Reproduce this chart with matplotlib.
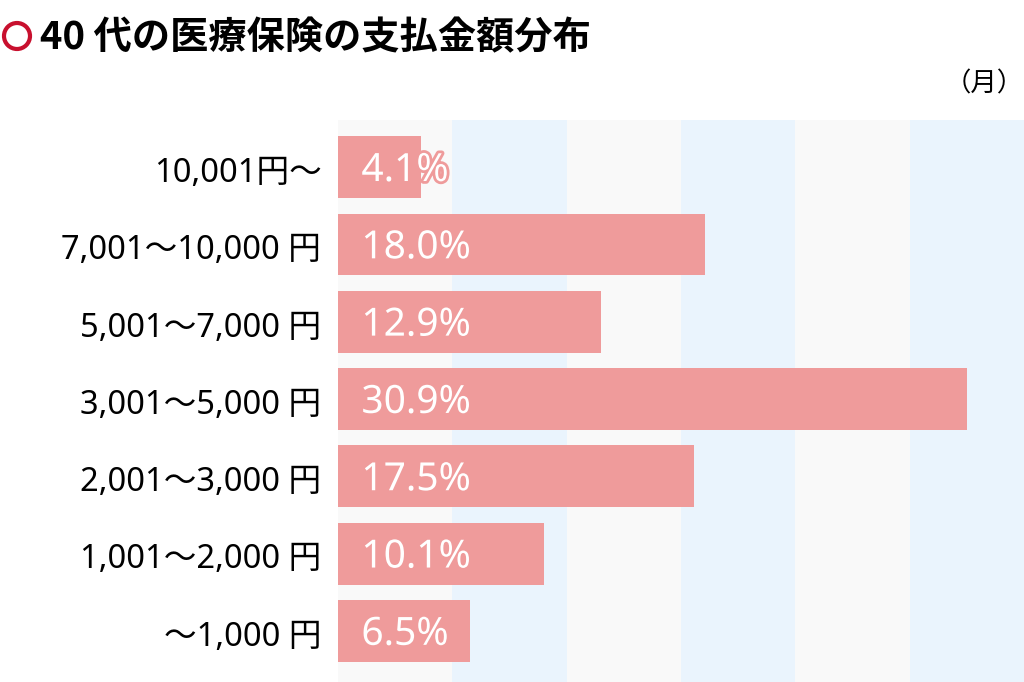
import matplotlib.pyplot as plt
import matplotlib.patheffects as pe
from matplotlib.patches import Rectangle, Ellipse

plt.rcParams['font.family'] = ['Noto Sans', 'Noto Sans CJK JP', 'DejaVu Sans']

# Data (top to bottom in the picture)
categories = ['10,001円〜', '7,001〜10,000 円', '5,001〜7,000 円', '3,001〜5,000 円',
              '2,001〜3,000 円', '1,001〜2,000 円', '〜1,000 円']
shares = [4.1, 18.0, 12.9, 30.9, 17.5, 10.1, 6.5]

bar_color = '#ef9b9b'
gray_band = '#f9f9f9'
blue_band = '#eaf4fd'

fig = plt.figure(figsize=(10.24, 6.82), dpi=100)
ax = fig.add_axes([338 / 1024, 0, 686 / 1024, 562 / 682])

# Alternating background columns
for i in range(6):
    c = gray_band if i % 2 == 0 else blue_band
    ax.add_patch(Rectangle((i / 6, 0), 1 / 6, 1, transform=ax.transAxes,
                           color=c, zorder=0, lw=0))

ypos = list(range(len(categories)))[::-1]
ax.barh(ypos, shares, height=0.8, color=bar_color, zorder=2)

for y, v in zip(ypos, shares):
    ax.text(1.15, y - 0.05, f'{v:.1f}%', color='white', fontsize=28, va='center',
            ha='left', zorder=3,
            path_effects=[pe.withStroke(linewidth=4, foreground=bar_color)])

ax.set_xlim(0, 33.69)
ax.set_ylim(-0.66, 6.61)
ax.set_yticks([y - 0.03 for y in ypos])
ax.set_yticklabels(categories, fontsize=23.5)
ax.tick_params(axis='y', length=0, pad=12)
ax.set_xticks([])
for s in ax.spines.values():
    s.set_visible(False)

# Title with red ring
fig.patches.append(Ellipse((17 / 1024, 1 - 36 / 682), 26 / 1024, 26 / 682,
                           transform=fig.transFigure, fill=False,
                           ec='#c8102e', lw=3.0))
fig.text(40 / 1024, 1 - 38 / 682, '40 代の医療保険の支払金額分布', fontsize=27.5,
         fontweight='bold', va='center', ha='left',
         family=['Noto Sans CJK JP', 'DejaVu Sans'])
fig.text(1.0, 1 - 84 / 682, '（月）', fontsize=19, va='center', ha='right')

fig.savefig('out.png', dpi=100)
